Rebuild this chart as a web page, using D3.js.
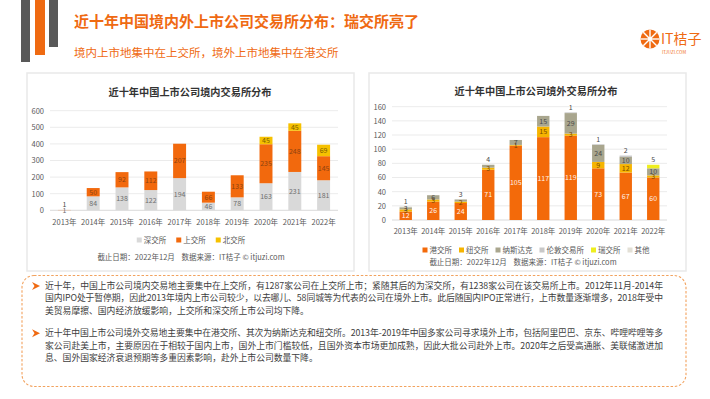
<!DOCTYPE html>
<html><head><meta charset="utf-8">
<script src="https://cdn.jsdelivr.net/npm/d3@7/dist/d3.min.js"></script>
<style>
html,body{margin:0;padding:0;background:#fff;}
svg{display:block;font-family:"Noto Sans CJK SC","Noto Sans",sans-serif;}
</style></head><body>
<svg id="c" width="710" height="399"></svg>
<script>
// ---------- data ----------
const years = ['2013年','2014年','2015年','2016年','2017年','2018年','2019年','2020年','2021年','2022年'];
const domKeys = ['深交所','上交所','北交所'];
const szse = [1,84,138,122,194,46,78,163,231,181];
const sse  = [1,50,92,112,207,66,133,235,248,145];
const bse  = [0,0,0,0,0,0,0,45,45,69];
const domTicks = [0,100,200,300,400,500,600];

const ovKeys = ['港交所','纽交所','纳斯达克','伦敦交易所','瑞交所','其他'];
const hkex   = [12,26,24,71,105,117,119,73,67,60];
const nyse   = [3,3,2,3,1,15,3,9,12,3];
const nasdaq = [3,6,3,4,7,15,29,24,10,10];
const lse    = [0,0,0,0,0,0,1,1,2,0];
const six    = [0,0,0,0,0,0,0,0,0,5];
const other  = [1,0,0,0,0,0,0,0,0,0];
const ovTicks = [0,20,40,60,80,100,120,140,160];

const title = '近十年中国境内外上市公司交易所分布：瑞交所亮了';
const subtitle = '境内上市地集中在上交所，境外上市地集中在港交所';
const domTitle = '近十年中国上市公司境内交易所分布';
const ovTitle = '近十年中国上市公司境外交易所分布';
const footnote = '截止日期：2022年12月    数据来源：IT桔子 © itjuzi.com';
const para1 = ['近十年，中国上市公司境内交易地主要集中在上交所，有1287家公司在上交所上市；紧随其后的为深交所，有1238家公司在该交易所上市。2012年11月-2014年',
 '国内IPO处于暂停期，因此2013年境内上市公司较少，以去哪儿、58同城等为代表的公司在境外上市。此后随国内IPO正常进行，上市数量逐渐增多，2018年受中',
 '美贸易摩擦、国内经济放缓影响，上交所和深交所上市公司均下降。'];
const para2 = ['近十年中国上市公司境外交易地主要集中在港交所、其次为纳斯达克和纽交所。2013年-2019年中国多家公司寻求境外上市，包括阿里巴巴、京东、哔哩哔哩等多',
 '家公司赴美上市，主要原因在于相较于国内上市，国外上市门槛较低，且国外资本市场更加成熟，因此大批公司赴外上市。2020年之后受高通胀、美联储激进加',
 '息、国外国家经济衰退预期等多重因素影响，赴外上市公司数量下降。'];

// ---------- styles ----------
const ORANGE = '#EF6A12';
const domColors = ['#D9D9D9','#F2690D','#F6C100'];
const domLabelColors = ['#6f6f6f','#8e4310','#7a5c00'];
const ovColors = ['#F36A0A','#F6B400','#A9A68E','#C8C8C8','#EEEE1E','#E3E0D6'];
const ovLabelColors = ['#fff3ea','#7a4a00','#4a4a4a','#4a4a4a','#4a4a4a','#4a4a4a'];

const svg = d3.select('#c');

// header decoration
svg.append('rect').attr('x',21).attr('y',0).attr('width',9).attr('height',62).attr('fill','#595959');
svg.append('rect').attr('x',35).attr('y',0).attr('width',10).attr('height',55).attr('fill',ORANGE);
svg.append('rect').attr('x',49).attr('y',0).attr('width',9).attr('height',47).attr('fill','#595959');
svg.append('text').attr('x',74).attr('y',27).attr('font-size',15).attr('font-weight','bold').attr('fill',ORANGE).text(title);
svg.append('text').attr('x',74).attr('y',57).attr('font-size',11.5).attr('fill',ORANGE).text(subtitle);

// logo
const lg = svg.append('g').attr('transform','translate(650,39)');
lg.append('circle').attr('r',9.5).attr('fill',ORANGE);
[0,45,90,135].forEach(a=>{
  lg.append('line').attr('x1',-9.5).attr('x2',9.5).attr('y1',0).attr('y2',0)
    .attr('stroke','#fff').attr('stroke-width',1.4).attr('transform',`rotate(${a})`);
});
lg.append('circle').attr('r',2).attr('fill','#fff');
svg.append('text').attr('x',661).attr('y',44).attr('font-size',14).attr('fill',ORANGE).text('IT桔子');
svg.append('text').attr('x',662).attr('y',54).attr('font-size',4.5).attr('fill',ORANGE).text('ITJUZI.COM');

// panels
svg.append('rect').attr('x',27).attr('y',73).attr('width',327).attr('height',198).attr('fill','#fff').attr('stroke','#e9e9e9').attr('stroke-width',1.5);
svg.append('rect').attr('x',369).attr('y',73).attr('width',317).attr('height',198).attr('fill','#fff').attr('stroke','#e9e9e9').attr('stroke-width',1.5);

function chart(cfg){
  const g = svg.append('g');
  const x = d3.scaleBand().domain(years).range(cfg.xr).paddingInner(cfg.pad).paddingOuter(cfg.pad/2);
  const y = d3.scaleLinear().domain([0, d3.max(cfg.ticks)]).range(cfg.yr);
  // grid
  g.selectAll('.grid').data(cfg.ticks).join('line')
    .attr('x1',cfg.xr[0]).attr('x2',cfg.xr[1]).attr('y1',d=>y(d)).attr('y2',d=>y(d))
    .attr('stroke',d=>d===0?'#d0d0d0':'#e6e6e6').attr('stroke-width',0.8);
  // y axis
  const ya = g.append('g').attr('transform',`translate(${cfg.xr[0]-6},0)`)
    .call(d3.axisLeft(y).tickValues(cfg.ticks).tickSize(0).tickPadding(0));
  ya.select('.domain').remove();
  ya.selectAll('text').attr('font-size',7.5).attr('fill','#595959').attr('font-family','"Noto Sans CJK SC",sans-serif');
  // x axis
  const xa = g.append('g').attr('transform',`translate(0,${cfg.yr[0]})`)
    .call(d3.axisBottom(x).tickSize(0).tickPadding(cfg.xpad));
  xa.select('.domain').remove();
  xa.selectAll('text').attr('font-size',7.5).attr('fill','#595959').attr('font-family','"Noto Sans CJK SC",sans-serif');
  // stack
  const rows = years.map((yr,i)=>{const o={year:yr}; cfg.keys.forEach((k,j)=>o[k]=cfg.vals[j][i]); return o;});
  const st = d3.stack().keys(cfg.keys)(rows);
  st.forEach((layer,li)=>{
    g.append('g').selectAll('rect').data(layer).join('rect')
      .attr('x',d=>x(d.data.year)).attr('width',x.bandwidth())
      .attr('y',d=>y(d[1])).attr('height',d=>Math.max(0,y(d[0])-y(d[1])))
      .attr('fill',cfg.colors[li]);
  });
  st.forEach((layer,li)=>{
    layer.forEach((d,i)=>{
      const v = d[1]-d[0];
      if(v<=0) return;
      let top = true;
      for(let k=li+1;k<cfg.keys.length;k++){ if(cfg.vals[k][i]>0) top=false; }
      const h = y(d[0])-y(d[1]);
      const cx = x(d.data.year)+x.bandwidth()/2;
      const t = g.append('text').attr('x',cx).attr('text-anchor','middle').attr('font-size',7).text(v);
      if(h<4 && top){
        t.attr('y',y(d[1])-2.5).attr('fill','#4a4a4a');
      } else {
        t.attr('y',(y(d[0])+y(d[1]))/2).attr('dy','0.35em').attr('fill',cfg.labelColors[li]);
      }
    });
  });
  // title
  svg.append('text').attr('x',cfg.tx).attr('y',cfg.ty).attr('text-anchor','middle').attr('font-size',10.2)
    .attr('font-weight','bold').attr('fill','#333').text(cfg.title);
  // legend
  const lgd = svg.append('g');
  let cur = 0; const items=[];
  cfg.keys.forEach((k,i)=>{
    const it = lgd.append('g');
    it.append('rect').attr('x',0).attr('y',-2.5).attr('width',5).attr('height',5).attr('fill',cfg.colors[i]);
    const tt = it.append('text').attr('x',7).attr('y',0).attr('dy','0.35em').attr('font-size',7.5).attr('fill','#595959').text(k);
    const w = 7 + tt.node().getComputedTextLength();
    it.attr('transform',`translate(${cur},0)`);
    cur += w + cfg.lgap;
  });
  const tot = cur - cfg.lgap;
  lgd.attr('transform',`translate(${cfg.lx - tot/2},${cfg.ly})`);
  svg.append('text').attr('x',cfg.fx).attr('y',cfg.fy).attr('dy','0.35em').attr('text-anchor','middle')
    .attr('font-size',7.5).attr('fill','#595959').attr('xml:space','preserve').text(footnote);
}

chart({keys:domKeys, vals:[szse,sse,bse], colors:domColors, labelColors:domLabelColors,
  ticks:domTicks, xr:[50,338], yr:[210.3,110.7], pad:0.55, xpad:9,
  title:domTitle, tx:190, ty:96, lx:191, ly:240, lgap:10, fx:191, fy:257});
chart({keys:ovKeys, vals:[hkex,nyse,nasdaq,lse,six,other], colors:ovColors, labelColors:ovLabelColors,
  ticks:ovTicks, xr:[392,667], yr:[220,106.7], pad:0.55, xpad:9,
  title:ovTitle, tx:536, ty:94.5, lx:536, ly:250, lgap:7, fx:523, fy:262.7});

// text box
svg.append('rect').attr('x',22).attr('y',275.5).attr('width',664).attr('height',111).attr('rx',12)
  .attr('fill','none').attr('stroke','#F2A25E').attr('stroke-width',1.1).attr('stroke-dasharray','2.5,1.8');
function bullet(cy){
  svg.append('path').attr('d',`M32,${cy-4} L40,${cy} L32,${cy+4} L34.5,${cy} Z`).attr('fill',ORANGE);
}
function para(lines, y0){
  lines.forEach((l,i)=>{
    const t = svg.append('text').attr('x',45).attr('y',y0+i*12.4).attr('dy','0.35em').attr('font-size',8.8).attr('fill','#404040').text(l);
    if(i<lines.length-1) t.attr('textLength',618).attr('lengthAdjust','spacing');
  });
}
bullet(286); para(para1,286);
bullet(333.3); para(para2,333.3);
</script>
</body></html>
